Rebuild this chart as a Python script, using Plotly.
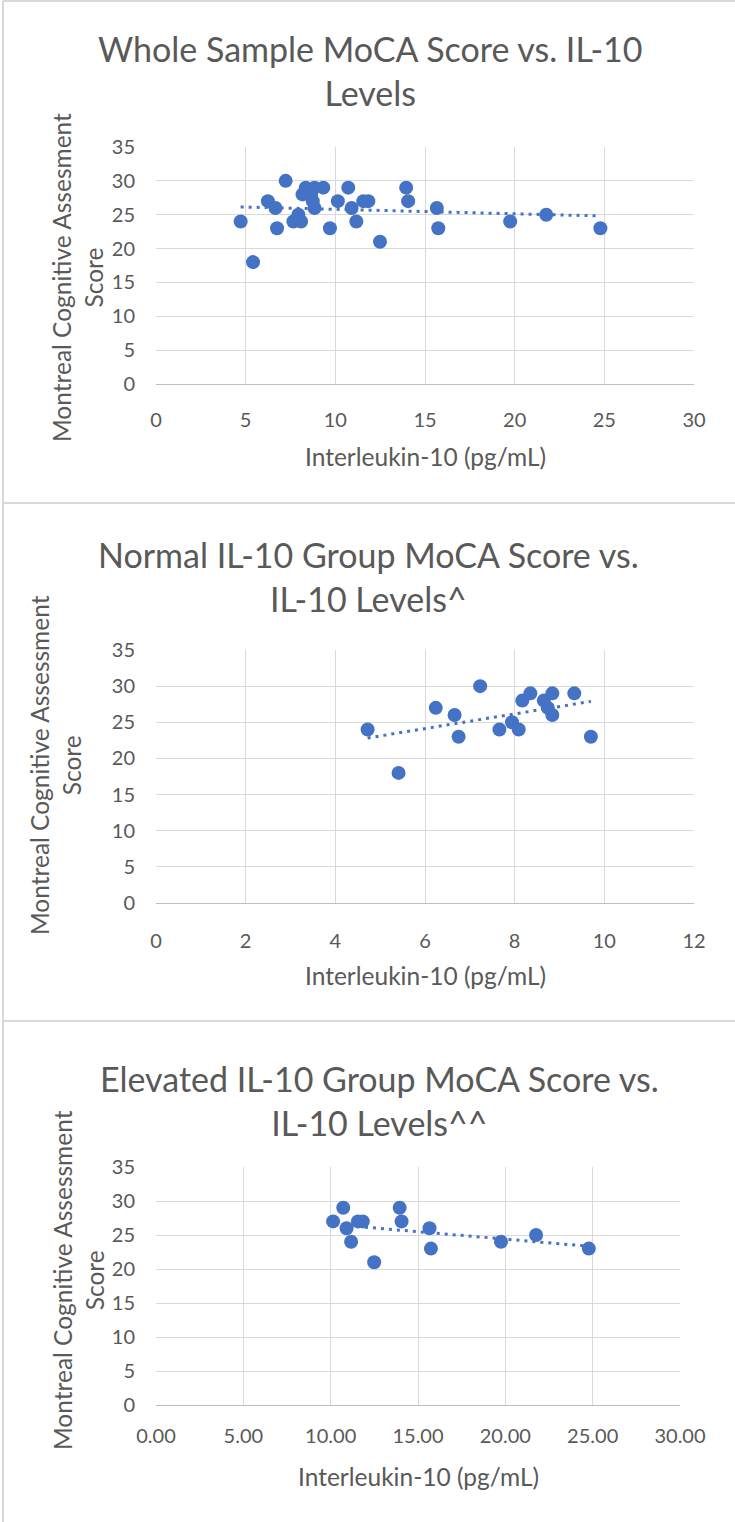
import numpy as np
import plotly.graph_objects as go

# ---------------- data ----------------
normal_il10 = [4.72, 5.41, 6.24, 6.66, 6.75, 7.23, 7.66, 7.94, 8.09, 8.17,
               8.35, 8.65, 8.74, 8.84, 8.84, 9.33, 9.70]
normal_moca = [24, 18, 27, 26, 23, 30, 24, 25, 24, 28,
               29, 28, 27, 26, 29, 29, 23]

elevated_il10 = [10.14, 10.72, 10.91, 11.17, 11.56, 11.84, 12.49, 13.95,
                 14.06, 15.66, 15.74, 19.75, 21.76, 24.78]
elevated_moca = [27, 29, 26, 24, 27, 27, 21, 29, 27, 26, 23, 24, 25, 23]

whole_il10 = normal_il10 + elevated_il10
whole_moca = normal_moca + elevated_moca

titles = ["Whole Sample MoCA Score vs. IL-10<br>Levels",
          "Normal IL-10 Group MoCA Score vs.<br>IL-10 Levels^",
          "Elevated IL-10 Group MoCA Score vs.<br>IL-10 Levels^^"]
x_title = "Interleukin-10 (pg/mL)"
y_titles = ["Montreal Cognitive Assesment<br>Score",
            "Montreal Cognitive Assessment<br>Score",
            "Montreal Cognitive Assessment<br>Score"]
x_ranges = [[0, 30], [0, 12], [0, 30]]
x_dticks = [5, 2, 5]
x_formats = ["d", "d", ".2f"]
y_range = [0, 35]
y_dtick = 5

# ---------------- styling / layout ----------------
W, H = 735, 1522
BLUE = "#4472C4"
GRID = "#D9D9D9"
TXT = "#595959"
FONT = "Lato"

def px(x):
    return x / W

def py(y):
    return 1 - y / H

# plot areas in pixel coordinates (left, right, top, bottom)
areas = [(156, 694, 147, 384), (156, 694, 650, 903), (156, 680, 1167, 1405)]
title_y = [71, 576, 1100]
title_x = [370, 368, 379]
xt_y = [456, 975, 1476]
yt_x = [77, 55, 78]
yt_y = [278, 765, 1280]
xtick_pad = [18, 20, 13]

series = [(whole_il10, whole_moca), (normal_il10, normal_moca),
          (elevated_il10, elevated_moca)]

fig = go.Figure()
annotations = []
for i, (xs, ys) in enumerate(series):
    sfx = "" if i == 0 else str(i + 1)
    xa, ya = "x" + sfx, "y" + sfx
    fig.add_trace(go.Scatter(x=xs, y=ys, mode="markers", xaxis=xa, yaxis=ya,
                             marker=dict(size=14, color=BLUE),
                             showlegend=False, hoverinfo="x+y"))
    slope, icpt = np.polyfit(xs, ys, 1)
    tx = np.array([min(xs), max(xs)])
    fig.add_trace(go.Scatter(x=tx, y=slope * tx + icpt, mode="lines",
                             xaxis=xa, yaxis=ya,
                             line=dict(color=BLUE, width=3, dash="3px,5px"),
                             showlegend=False, hoverinfo="skip"))
    l, r, t, b = areas[i]
    fig.layout["xaxis" + sfx] = dict(
        domain=[px(l), px(r)], anchor=ya, range=x_ranges[i],
        dtick=x_dticks[i], tick0=0, tickformat=x_formats[i],
        showgrid=True, gridcolor=GRID, gridwidth=1, automargin=False,
        zeroline=False, showline=True, linecolor="#BFBFBF", linewidth=1,
        ticks="", ticklabelstandoff=xtick_pad[i],
        tickfont=dict(family=FONT, size=20, color=TXT), fixedrange=True)
    fig.layout["yaxis" + sfx] = dict(
        domain=[py(b), py(t)], anchor=xa, range=y_range, dtick=y_dtick,
        tick0=0, showgrid=True, gridcolor=GRID, gridwidth=1, automargin=False,
        zeroline=False, showline=False, ticks="", ticklabelstandoff=20,
        tickfont=dict(family=FONT, size=20, color=TXT), fixedrange=True)
    annotations.append(dict(text=titles[i], x=px(title_x[i]), y=py(title_y[i]),
                            xref="paper", yref="paper", showarrow=False,
                            xanchor="center", yanchor="middle",
                            font=dict(family=FONT, size=34, color=TXT)))
    annotations.append(dict(text=x_title, x=px((l + r) / 2), y=py(xt_y[i]),
                            xref="paper", yref="paper", showarrow=False,
                            xanchor="center", yanchor="middle",
                            font=dict(family=FONT, size=24.5, color=TXT)))
    annotations.append(dict(text=y_titles[i], x=px(yt_x[i]), y=py(yt_y[i]),
                            xref="paper", yref="paper", showarrow=False,
                            textangle=-90, xanchor="center", yanchor="middle",
                            font=dict(family=FONT, size=24.5, color=TXT)))

shapes = [
    dict(type="line", xref="paper", yref="paper", x0=px(3), x1=px(3),
         y0=0, y1=py(1), line=dict(color=GRID, width=2)),
    dict(type="line", xref="paper", yref="paper", x0=px(3), x1=1,
         y0=py(1), y1=py(1), line=dict(color=GRID, width=2)),
    dict(type="line", xref="paper", yref="paper", x0=px(3), x1=1,
         y0=py(503), y1=py(503), line=dict(color=GRID, width=2)),
    dict(type="line", xref="paper", yref="paper", x0=px(3), x1=1,
         y0=py(1021), y1=py(1021), line=dict(color=GRID, width=2)),
]

fig.update_layout(width=W, height=H,
                  margin=dict(l=0, r=0, t=0, b=0, pad=0, autoexpand=False),
                  paper_bgcolor="white", plot_bgcolor="white",
                  annotations=annotations, shapes=shapes,
                  font=dict(family=FONT, color=TXT))

fig.write_html("out.html", config={"displayModeBar": False},
               post_script="document.body.style.margin='0';"
                           "document.body.style.overflow='hidden';")
